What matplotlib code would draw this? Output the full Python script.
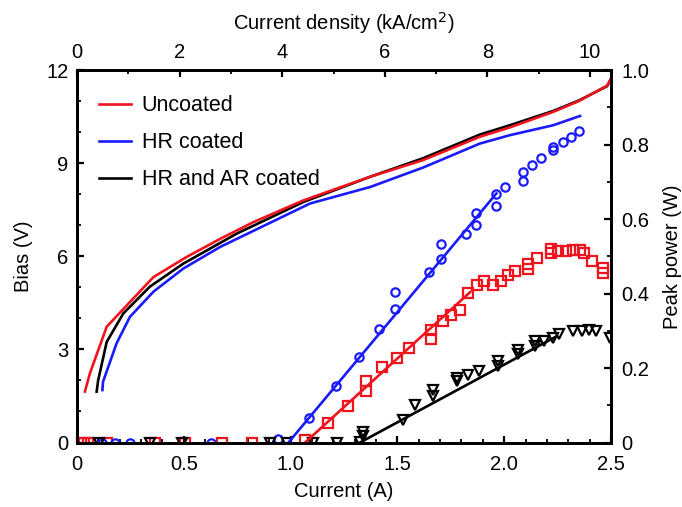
import matplotlib
matplotlib.use('Agg')
import matplotlib.pyplot as plt
from matplotlib.ticker import MultipleLocator

plt.rcParams['font.family'] = ['Liberation Sans', 'DejaVu Sans']

# bias (V) vs current (A)
unc_I = [0.037, 0.061, 0.139, 0.358, 0.514, 0.670, 0.826, 1.060, 1.372, 1.621, 1.886, 2.026, 2.229, 2.350, 2.482, 2.5]
unc_V = [1.64, 2.24, 3.73, 5.33, 5.98, 6.56, 7.10, 7.80, 8.56, 9.10, 9.85, 10.15, 10.65, 11.0, 11.5, 11.72]
hr_I = [0.119, 0.122, 0.185, 0.248, 0.358, 0.497, 0.670, 1.091, 1.372, 1.621, 1.886, 2.026, 2.229, 2.355]
hr_V = [1.69, 1.96, 3.19, 4.05, 4.86, 5.60, 6.30, 7.70, 8.23, 8.86, 9.63, 9.90, 10.22, 10.52]
hrar_I = [0.092, 0.099, 0.139, 0.217, 0.341, 0.497, 0.748, 1.060, 1.372, 1.621, 1.886, 2.026, 2.229, 2.350, 2.482, 2.5]
hrar_V = [1.64, 2.0, 3.24, 4.16, 5.02, 5.76, 6.73, 7.75, 8.56, 9.16, 9.92, 10.22, 10.68, 11.02, 11.48, 11.72]

# peak power (W) measured points
unc_pI = [0.02, 0.035, 0.05, 0.142, 0.365, 0.507, 0.679, 0.82, 1.068, 1.176, 1.270, 1.353, 1.353, 1.426, 1.496,
          1.556, 1.657, 1.657, 1.712, 1.749, 1.793, 1.832, 1.871, 1.905, 1.946, 1.983, 2.019, 2.052,
          2.113, 2.113, 2.152, 2.217, 2.217, 2.253, 2.289, 2.324, 2.354, 2.373, 2.409, 2.464, 2.464]
unc_pP = [0.0, 0.0, 0.0, 0.0, 0.0, 0.0, 0.0, 0.0, 0.006, 0.052, 0.097, 0.137, 0.164, 0.204, 0.227,
          0.254, 0.278, 0.303, 0.326, 0.341, 0.357, 0.402, 0.424, 0.433, 0.424, 0.433, 0.451, 0.460,
          0.465, 0.478, 0.496, 0.510, 0.519, 0.514, 0.514, 0.517, 0.517, 0.510, 0.487, 0.469, 0.456]
hr_pI = [0.117, 0.177, 0.248, 0.628, 0.942, 1.088, 1.213, 1.320, 1.414, 1.488, 1.488, 1.649, 1.706, 1.706,
         1.823, 1.868, 1.868, 1.961, 1.961, 2.005, 2.090, 2.090, 2.128, 2.171, 2.229, 2.229, 2.273, 2.311, 2.351]
hr_pP = [0.0, 0.0, 0.0, 0.0, 0.01, 0.065, 0.153, 0.230, 0.305, 0.359, 0.404, 0.458, 0.492, 0.532,
         0.559, 0.584, 0.616, 0.636, 0.667, 0.687, 0.703, 0.726, 0.745, 0.763, 0.784, 0.793, 0.806, 0.820, 0.835]
hrar_pI = [0.101, 0.344, 0.491, 0.902, 0.983, 1.104, 1.216, 1.327, 1.337, 1.337, 1.528, 1.582, 1.665, 1.665,
           1.777, 1.777, 1.832, 1.883, 1.972, 1.972, 2.066, 2.066, 2.144, 2.144, 2.186, 2.227, 2.258,
           2.324, 2.362, 2.398, 2.432, 2.495]
hrar_pP = [0.0, 0.0, 0.0, 0.0, 0.0, 0.0, 0.0, 0.002, 0.017, 0.029, 0.061, 0.101, 0.125, 0.140, 0.164, 0.174,
           0.182, 0.191, 0.206, 0.218, 0.238, 0.249, 0.258, 0.272, 0.272, 0.281, 0.290, 0.299, 0.300,
           0.303, 0.299, 0.281]

# linear fits to the power curves
unc_fitI = [1.068, 1.841]
unc_fitP = [0.0, 0.404]
hr_fitI = [0.990, 1.964]
hr_fitP = [0.0, 0.669]
hrar_fitI = [1.325, 2.245]
hrar_fitP = [0.0, 0.285]

I_max = 2.5
kA_per_A = 10 / 2.402  # current density per amp

red = '#f0141e'
blue = '#1a1aff'
black = '#000000'

fig = plt.figure(figsize=(6.82, 5.07), dpi=100)
ax = fig.add_axes([0.1129, 0.1272, 0.783, 0.7347])
ax2 = ax.twinx()

ax.plot(unc_I, unc_V, color=red, lw=1.9, label='Uncoated', zorder=3)
ax.plot(hr_I, hr_V, color=blue, lw=1.9, label='HR coated', zorder=2)
ax.plot(hrar_I, hrar_V, color=black, lw=1.9, label='HR and AR coated', zorder=2)

mk = dict(ls='none', mfc='none', mew=1.6)
ax2.plot(unc_pI, unc_pP, marker='s', ms=6.5, mec=red, **mk)
ax2.plot(hr_pI, hr_pP, marker='o', ms=6, mec=blue, **mk)
ax2.plot(hrar_pI, hrar_pP, marker='v', ms=7, mec=black, **mk)
ax2.plot(unc_fitI, unc_fitP, color=red, lw=1.9)
ax2.plot(hr_fitI, hr_fitP, color=blue, lw=1.9)
ax2.plot(hrar_fitI, hrar_fitP, color=black, lw=1.9)

ax.set_xlim(0, I_max)
ax.set_ylim(0, 12)
ax2.set_ylim(0, 1.0)

ax.xaxis.set_major_locator(MultipleLocator(0.5))
ax.xaxis.set_minor_locator(MultipleLocator(0.1))
ax.yaxis.set_major_locator(MultipleLocator(3))
ax.yaxis.set_minor_locator(MultipleLocator(1))
ax2.yaxis.set_major_locator(MultipleLocator(0.2))
ax2.yaxis.set_minor_locator(MultipleLocator(0.1))

ax.set_xticks([0, 0.5, 1.0, 1.5, 2.0, 2.5])
ax.set_xticklabels(['0', '0.5', '1.0', '1.5', '2.0', '2.5'])
ax2.set_yticks([0, 0.2, 0.4, 0.6, 0.8, 1.0])
ax2.set_yticklabels(['0', '0.2', '0.4', '0.6', '0.8', '1.0'])

top = ax.secondary_xaxis('top', functions=(lambda x: x * kA_per_A, lambda d: d / kA_per_A))
top.xaxis.set_major_locator(MultipleLocator(2))
top.xaxis.set_minor_locator(MultipleLocator(1))

fs = 14.5
for a in (ax, ax2, top):
    a.tick_params(which='major', direction='in', length=5, width=1.6, labelsize=fs)
    a.tick_params(which='minor', direction='in', length=3, width=1.3)
ax.tick_params(axis='x', pad=9)
ax.tick_params(axis='y', pad=6)
ax2.tick_params(axis='y', pad=7.5)
top.tick_params(axis='x', pad=6)

for s in ax.spines.values():
    s.set_linewidth(2)
for s in ax2.spines.values():
    s.set_linewidth(2)
top.spines['top'].set_linewidth(2)

top.set_xlabel('Current density (kA/cm$^2$)', fontsize=fs, labelpad=9)
ax.set_xlabel('Current (A)', fontsize=fs, labelpad=6)
ax.set_ylabel('Bias (V)', fontsize=fs, labelpad=10)
ax2.set_ylabel('Peak power (W)', fontsize=fs, labelpad=10)

ax.legend(loc='upper left', frameon=False, fontsize=15.5, handlelength=1.5,
          handletextpad=0.5, labelspacing=0.74, borderaxespad=0.6, bbox_to_anchor=(0.0, 0.99))

fig.savefig('out.png', dpi=100)
